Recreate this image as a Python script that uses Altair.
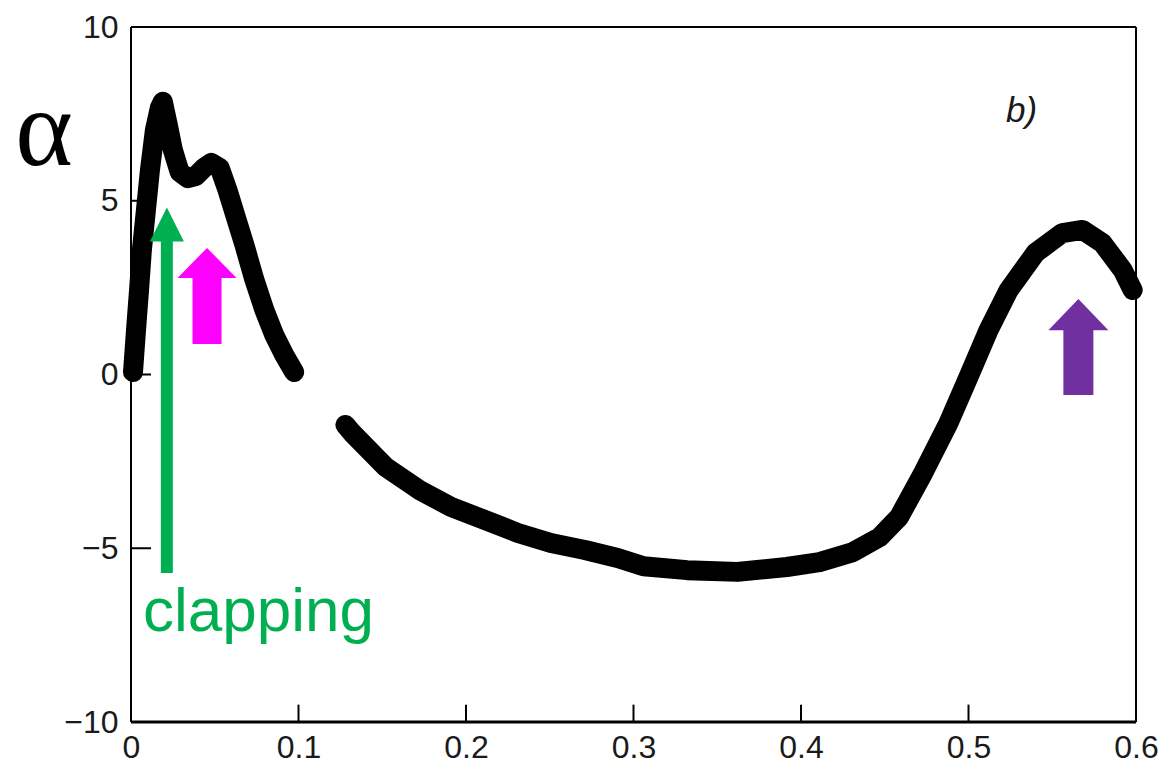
import altair as alt
import pandas as pd

# ---- data ----
seg1_x = [0.0012, 0.003, 0.0048, 0.0065, 0.0089, 0.0113, 0.0143, 0.0172, 0.019,
          0.022, 0.025, 0.029, 0.034, 0.0386, 0.0434, 0.048, 0.053, 0.0576,
          0.0618, 0.0677, 0.0737, 0.0796, 0.0855, 0.0915, 0.0974]
seg1_y = [0.07, 1.28, 2.43, 3.58, 4.73, 5.88, 7.04, 7.67, 7.85,
          7.18, 6.46, 5.83, 5.65, 5.71, 5.94, 6.09, 5.94, 5.31,
          4.65, 3.73, 2.72, 1.86, 1.14, 0.56, 0.07]

seg2_x = [0.128, 0.132, 0.152, 0.172, 0.191, 0.2115, 0.231, 0.2507, 0.271, 0.2905,
          0.306, 0.332, 0.362, 0.3915, 0.411, 0.431, 0.447, 0.4586, 0.473, 0.488,
          0.500, 0.512, 0.524, 0.540, 0.556, 0.568, 0.580, 0.592, 0.598]
seg2_y = [-1.45, -1.68, -2.66, -3.32, -3.81, -4.19, -4.56, -4.85, -5.05, -5.28,
          -5.52, -5.63, -5.68, -5.54, -5.40, -5.11, -4.68, -4.10, -2.83, -1.40,
          -0.07, 1.28, 2.43, 3.50, 4.07, 4.16, 3.78, 3.01, 2.43]

x_ticks = [0, 0.1, 0.2, 0.3, 0.4, 0.5, 0.6]
y_ticks = [-10, -5, 0, 5, 10]

# arrows: x position, shaft bottom, head base, head tip, colour
arrow_x = [0.0214, 0.0454, 0.5656]
arrow_bottom = [-5.71, 0.88, -0.59]
arrow_base = [3.81, 2.78, 1.28]
arrow_tip = [4.82, 3.64, 2.17]
arrow_colors = ["#00b050", "#ff00ff", "#7030a0"]
shaft_widths = [12, 29, 30]
head_widths = [34, 59, 60]
head_paths = ["M-1,1L0,-1L1,1Z", "M-1,0.51L0,-0.51L1,0.51Z", "M-1,0.52L0,-0.52L1,0.52Z"]

W, H = 1005, 695

curve = pd.DataFrame(
    {"x": seg1_x + seg2_x,
     "y": seg1_y + seg2_y,
     "seg": ["a"] * len(seg1_x) + ["b"] * len(seg2_x),
     "order": list(range(len(seg1_x))) + list(range(len(seg2_x)))}
)

xs = alt.Scale(domain=[0, 0.6], nice=False, zero=False)
ys = alt.Scale(domain=[-10, 10], nice=False, zero=False)

lab = dict(labelFont="Liberation Sans", labelFontSize=32, labelColor="#1a1a1a",
           ticks=False, domain=False, grid=False, title=None, labelFlush=False)

line = alt.Chart(curve).mark_line(
    color="black", strokeWidth=20, strokeCap="round", strokeJoin="round"
).encode(
    x=alt.X("x:Q", scale=xs,
            axis=alt.Axis(values=x_ticks, format=".1~f", labelPadding=10, **lab)),
    y=alt.Y("y:Q", scale=ys,
            axis=alt.Axis(values=y_ticks, format="d", labelPadding=13, **lab)),
    detail="seg:N",
    order="order:Q",
)

# inward ticks
ytick = alt.Chart(pd.DataFrame({"y": y_ticks})).mark_rule(
    color="black", strokeWidth=2
).encode(y=alt.Y("y:Q", scale=ys), x=alt.value(0), x2=alt.value(20))

xtick = alt.Chart(pd.DataFrame({"x": x_ticks[1:-1], "y0": [-10] * 5, "y1": [-9.5] * 5})).mark_rule(
    color="black", strokeWidth=2
).encode(x=alt.X("x:Q", scale=xs), y=alt.Y("y0:Q", scale=ys), y2="y1:Q")

# frame
frame_h = alt.Chart(pd.DataFrame({"y": [-10, 10], "w": [3, 2]})).mark_rule(
    color="black"
).encode(y=alt.Y("y:Q", scale=ys), x=alt.value(0), x2=alt.value(W),
         strokeWidth=alt.StrokeWidth("w:Q", scale=None))
frame_v = alt.Chart(pd.DataFrame({"x": [0, 0.6], "y0": [-10, -10], "y1": [10, 10]})).mark_rule(
    color="black", strokeWidth=2
).encode(x=alt.X("x:Q", scale=xs), y=alt.Y("y0:Q", scale=ys), y2="y1:Q")

layers = [line, ytick, xtick, frame_h, frame_v]

for i in range(3):
    d = pd.DataFrame({"x": [arrow_x[i]], "y0": [arrow_bottom[i]],
                      "y1": [arrow_base[i] + 0.1],
                      "ym": [(arrow_base[i] + arrow_tip[i]) / 2]})
    shaft = alt.Chart(d).mark_rule(
        color=arrow_colors[i], strokeWidth=shaft_widths[i], strokeCap="butt"
    ).encode(x=alt.X("x:Q", scale=xs), y=alt.Y("y0:Q", scale=ys), y2="y1:Q")
    head = alt.Chart(d).mark_point(
        shape=head_paths[i], filled=True, opacity=1, color=arrow_colors[i],
        size=head_widths[i] ** 2, strokeWidth=0
    ).encode(x=alt.X("x:Q", scale=xs), y=alt.Y("ym:Q", scale=ys))
    layers += [shaft, head]

one = pd.DataFrame({"t": [0]})
alpha = alt.Chart(one).mark_text(
    text="α", font="Liberation Serif", fontSize=110, color="black",
    align="center", baseline="alphabetic"
).encode(x=alt.value(-87), y=alt.value(138))

blabel = alt.Chart(one).mark_text(
    text="b)", font="Liberation Sans", fontSize=35, fontStyle="italic",
    color="#1a1a1a", align="left", baseline="alphabetic"
).encode(x=alt.value(875), y=alt.value(95))

clap = alt.Chart(one).mark_text(
    text="clapping", font="Liberation Sans", fontSize=62, color="#00b050",
    align="left", baseline="alphabetic"
).encode(x=alt.value(12), y=alt.value(604))

layers += [alpha, blabel, clap]

chart = alt.layer(*layers).properties(
    width=W, height=H,
    autosize=alt.AutoSizeParams(type="none"),
    padding={"left": 123, "top": 19, "right": 24, "bottom": 43},
).configure_view(stroke=None).configure(background="white")

chart.save("out.html", embed_options={"renderer": "svg", "actions": False})
